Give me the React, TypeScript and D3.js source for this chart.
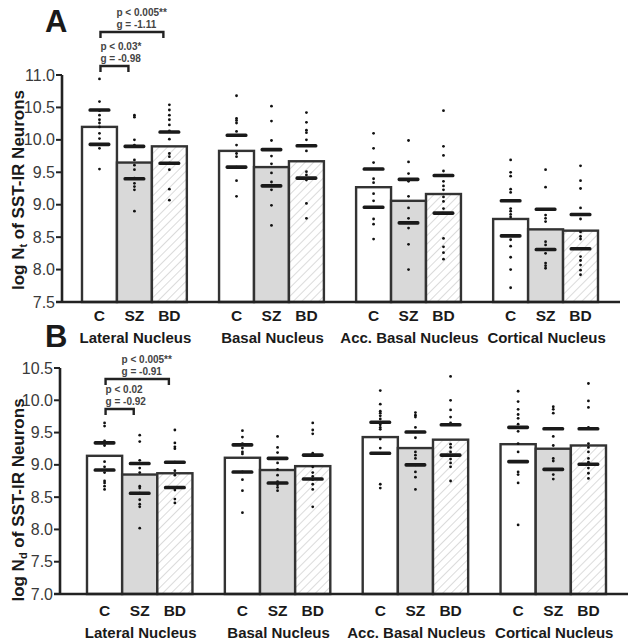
import * as d3 from 'd3';
import React from 'react';

const nuclei = ['Lateral Nucleus', 'Basal Nucleus', 'Acc. Basal Nucleus', 'Cortical Nucleus'];
const groups = ['C', 'SZ', 'BD'];

// panel A: log Nt
const meansA = [
    [10.2, 9.65, 9.9],
    [9.83, 9.58, 9.67],
    [9.27, 9.06, 9.165],
    [8.78, 8.62, 8.6],
];
const sdHighA = [
    [10.46, 9.9, 10.12],
    [10.07, 9.85, 9.91],
    [9.55, 9.39, 9.45],
    [9.06, 8.93, 8.85],
];
const sdLowA = [
    [9.93, 9.4, 9.64],
    [9.58, 9.29, 9.41],
    [8.96, 8.72, 8.87],
    [8.52, 8.31, 8.32],
];
const dotsA = [
    [
        [10.94, 10.59, 10.45, 10.38, 10.31, 10.26, 10.2, 10.1, 10.02, 9.93, 9.87, 9.55],
        [10.38, 10.35, 10.0, 9.92, 9.69, 9.61, 9.54, 9.41, 9.33, 9.28, 9.23, 8.9],
        [10.54, 10.46, 10.38, 10.31, 10.23, 10.14, 10.01, 9.79, 9.74, 9.64, 9.54, 9.24, 9.07],
    ],
    [
        [10.68, 10.33, 10.3, 10.26, 10.13, 9.92, 9.79, 9.74, 9.58, 9.37, 9.13],
        [10.52, 10.29, 9.99, 9.85, 9.75, 9.63, 9.49, 9.35, 9.23, 8.99, 8.68],
        [10.42, 10.27, 10.15, 10.11, 10.0, 9.91, 9.83, 9.51, 9.46, 9.38, 9.02, 8.79],
    ],
    [
        [10.1, 9.87, 9.65, 9.4, 9.34, 9.17, 9.06, 8.78, 8.7, 8.47],
        [9.99, 9.66, 9.48, 9.36, 9.13, 8.95, 8.79, 8.64, 8.39, 8.0],
        [10.45, 9.9, 9.76, 9.52, 9.36, 9.29, 9.23, 9.12, 9.05, 8.94, 8.48, 8.35, 8.26, 8.16],
    ],
    [
        [9.69, 9.5, 9.44, 9.24, 9.19, 8.94, 8.9, 8.85, 8.81, 8.46, 8.36, 8.19, 8.0, 7.72],
        [9.54, 9.27, 8.84, 8.79, 8.74, 8.43, 8.38, 8.25, 8.1, 8.06, 8.02],
        [9.6, 9.37, 9.25, 8.95, 8.78, 8.58, 8.51, 8.47, 8.2, 8.14, 8.07, 7.99, 7.92],
    ],
];

// panel B: log Nd
const meansB = [
    [9.14, 8.85, 8.87],
    [9.11, 8.92, 8.98],
    [9.43, 9.26, 9.39],
    [9.32, 9.25, 9.3],
];
const sdHighB = [
    [9.34, 9.02, 9.04],
    [9.31, 9.1, 9.15],
    [9.66, 9.51, 9.62],
    [9.58, 9.56, 9.56],
];
const sdLowB = [
    [8.92, 8.56, 8.65],
    [8.89, 8.72, 8.78],
    [9.18, 9.0, 9.15],
    [9.05, 8.93, 9.01],
];
const dotsB = [
    [
        [9.65, 9.6, 9.37, 9.3, 9.05, 8.97, 8.88, 8.75, 8.72, 8.67, 8.62],
        [9.46, 9.36, 9.07, 8.95, 8.88, 8.67, 8.64, 8.56, 8.46, 8.39, 8.35, 8.02],
        [9.54, 9.34, 9.28, 9.25, 9.04, 8.91, 8.84, 8.65, 8.61, 8.47, 8.41],
    ],
    [
        [9.53, 9.43, 9.33, 9.26, 9.2, 9.17, 8.89, 8.77, 8.6, 8.26],
        [9.44, 9.27, 9.19, 9.1, 9.03, 8.93, 8.84, 8.74, 8.69, 8.65, 8.6],
        [9.65, 9.54, 9.48, 9.18, 9.15, 8.97, 8.88, 8.82, 8.77, 8.7, 8.62, 8.35],
    ],
    [
        [10.15, 9.94, 9.83, 9.8, 9.76, 9.71, 9.62, 9.58, 9.55, 9.4, 9.26, 8.7, 8.64],
        [9.81, 9.77, 9.74, 9.58, 9.42, 9.2, 9.15, 9.1, 9.0, 8.89, 8.81, 8.62],
        [10.37, 10.0, 9.85, 9.74, 9.65, 9.32, 9.27, 9.2, 9.15, 9.09, 9.03, 8.97, 8.75],
    ],
    [
        [10.14, 9.98, 9.86, 9.78, 9.72, 9.63, 9.52, 9.33, 9.2, 8.89, 8.85, 8.72, 8.07],
        [9.9, 9.86, 9.8, 9.44, 9.3, 9.1, 9.06, 8.93, 8.85, 8.78],
        [10.26, 9.99, 9.89, 9.58, 9.33, 9.27, 9.2, 9.1, 9.04, 8.95, 8.87, 8.79],
    ],
];

const statsA = [
    { p: 'p < 0.005**', g: 'g = -1.11', to: 'BD' },
    { p: 'p < 0.03*', g: 'g = -0.98', to: 'SZ' },
];
const statsB = [
    { p: 'p < 0.005**', g: 'g = -0.91', to: 'BD' },
    { p: 'p < 0.02', g: 'g = -0.92', to: 'SZ' },
];

const FONT = 'Liberation Sans, Arial, Helvetica, sans-serif';
const fills: Record<string, string> = { C: '#ffffff', SZ: '#d9d9d9', BD: 'url(#hatch)' };

interface PanelProps {
    letter: string;
    letterY: number;
    sub: string;
    domain: [number, number];
    axisX: number;
    top: number;
    bottom: number;
    xStart: number;
    xEnd: number;
    lineEnd: number;
    labelCenterY: number;
    catY: number;
    nucY: number;
    statY: number[];
    means: number[][];
    sdHigh: number[][];
    sdLow: number[][];
    dots: number[][][];
    stats: { p: string; g: string; to: string }[];
}

function Panel(props: PanelProps) {
    const { axisX, top, bottom, domain } = props;
    const y = d3.scaleLinear().domain(domain).range([bottom, top]);
    const x = d3.scaleBand<string>().domain(nuclei).range([props.xStart, props.xEnd]).paddingInner(0.235).paddingOuter(0);
    const inner = d3.scaleBand<string>().domain(groups).range([0, x.bandwidth()]).padding(0);
    const ticks = d3.range(domain[0], domain[1] + 0.001, 0.5);
    const cx = (n: string, g: string) => (x(n) as number) + (inner(g) as number) + inner.bandwidth() / 2;
    const c0 = cx(nuclei[0], 'C');

    return (
        <g>
            <text x={45} y={props.letterY} fontFamily={FONT} fontWeight="bold" fontSize={31} fill="#1a1a1a">
                {props.letter}
            </text>

            {/* bars */}
            {nuclei.map((n, i) =>
                groups.map((g, j) => (
                    <rect
                        key={n + g}
                        x={(x(n) as number) + (inner(g) as number)}
                        y={y(props.means[i][j])}
                        width={inner.bandwidth()}
                        height={bottom - y(props.means[i][j])}
                        fill={fills[g]}
                        stroke="#333"
                        strokeWidth={2.4}
                    />
                ))
            )}

            {/* individual cases */}
            {nuclei.map((n, i) =>
                groups.map((g, j) =>
                    props.dots[i][j].map((v, k) => (
                        <circle key={n + g + k} cx={cx(n, g)} cy={y(v)} r={1.4} fill="#111" />
                    ))
                )
            )}

            {/* sd lines */}
            {nuclei.map((n, i) =>
                groups.map((g, j) =>
                    [props.sdHigh[i][j], props.sdLow[i][j]].map((v, k) => (
                        <rect key={n + g + 's' + k} x={cx(n, g) - 11} y={y(v) - 1.8} width={22} height={3.6} rx={1.6} fill="#1a1a1a" />
                    ))
                )
            )}

            {/* axes */}
            <line x1={axisX} x2={axisX} y1={top} y2={bottom} stroke="#222" strokeWidth={2.6} />
            <line x1={axisX - 6} x2={props.lineEnd} y1={bottom} y2={bottom} stroke="#222" strokeWidth={2.6} />
            {ticks.map((t) => (
                <g key={t}>
                    <line x1={axisX - 6} x2={axisX} y1={y(t)} y2={y(t)} stroke="#222" strokeWidth={2} />
                    <text x={axisX - 7} y={y(t) + 5.5} textAnchor="end" fontFamily={FONT} fontSize={16} fill="#3a3a3a">
                        {t.toFixed(1)}
                    </text>
                </g>
            ))}

            <text
                transform={`translate(24,${props.labelCenterY}) rotate(-90)`}
                textAnchor="middle"
                fontFamily={FONT}
                fontWeight="bold"
                fontSize={17}
                fill="#1a1a1a"
            >
                log N
                <tspan fontSize={11} dy={3}>{props.sub}</tspan>
                <tspan dy={-3}> of SST-IR Neurons</tspan>
            </text>

            {/* category + nucleus labels */}
            {nuclei.map((n) => (
                <g key={n}>
                    {groups.map((g) => (
                        <text key={g} x={cx(n, g)} y={props.catY} textAnchor="middle" fontFamily={FONT} fontWeight="bold" fontSize={15.5} fill="#1a1a1a">
                            {g}
                        </text>
                    ))}
                    <text x={cx(n, 'SZ') + 1} y={props.nucY} textAnchor="middle" fontFamily={FONT} fontWeight="bold" fontSize={15} fill="#1a1a1a">
                        {n}
                    </text>
                </g>
            ))}

            {/* significance brackets */}
            {props.stats.map((s, k) => {
                const by = props.statY[k];
                const x1 = c0 + 1;
                const x2 = cx(nuclei[0], s.to) - 6;
                const tx = s.to === 'BD' ? c0 + 17 : c0 + 1;
                return (
                    <g key={k}>
                        <text x={tx} y={by - 16} fontFamily={FONT} fontWeight="bold" fontSize={10} fill="#444">
                            {s.p}
                        </text>
                        <text x={tx} y={by - 4.5} fontFamily={FONT} fontWeight="bold" fontSize={10} fill="#444">
                            {s.g}
                        </text>
                        <path d={`M${x1},${by + 6}V${by}H${x2}V${by + 6}`} fill="none" stroke="#222" strokeWidth={2.4} />
                    </g>
                );
            })}
        </g>
    );
}

export default function App() {
    return (
        <svg width={634} height={643} style={{ position: 'absolute', left: 0, top: 0, background: '#fff' }}>
            <defs>
                <pattern id="hatch" patternUnits="userSpaceOnUse" width={6} height={6} patternTransform="rotate(45)">
                    <rect width={6} height={6} fill="#fff" />
                    <line x1={0} y1={0} x2={0} y2={6} stroke="#c4c4c4" strokeWidth={1.2} />
                </pattern>
            </defs>
            <Panel
                letter="A"
                letterY={32}
                sub="t"
                domain={[7.5, 11]}
                axisX={62}
                top={75}
                bottom={302}
                xStart={82}
                xEnd={598}
                lineEnd={620}
                labelCenterY={190}
                catY={321}
                nucY={343}
                statY={[32, 66]}
                means={meansA}
                sdHigh={sdHighA}
                sdLow={sdLowA}
                dots={dotsA}
                stats={statsA}
            />
            <Panel
                letter="B"
                letterY={347}
                sub="d"
                domain={[7.0, 10.5]}
                axisX={60}
                top={368}
                bottom={594}
                xStart={87}
                xEnd={606}
                lineEnd={628}
                labelCenterY={500}
                catY={616}
                nucY={638}
                statY={[379, 409]}
                means={meansB}
                sdHigh={sdHighB}
                sdLow={sdLowB}
                dots={dotsB}
                stats={statsB}
            />
        </svg>
    );
}
